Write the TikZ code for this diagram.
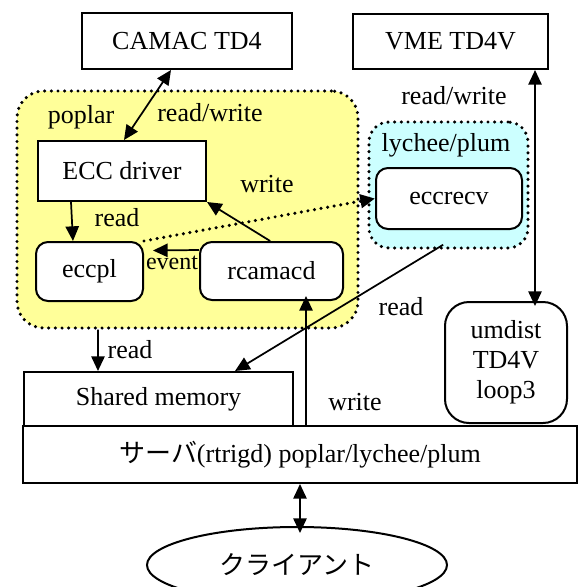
\documentclass[tikz,border=0pt]{standalone}
\usepackage{fontspec}
\setmainfont{Liberation Serif}
\newfontfamily\jpfont{Noto Sans CJK JP}
\usetikzlibrary{arrows.meta,shapes.geometric}
\definecolor{zoneyellow}{RGB}{255,255,153}
\definecolor{zonecyan}{RGB}{204,255,255}
\tikzset{
  box/.style={draw, line width=1.5pt, inner sep=0pt, fill=white, align=center},
  rbox/.style={box, rounded corners=9pt},
  dots/.style={line width=2.6pt, line cap=round, dash pattern=on 0pt off 5pt},
  zone/.style={draw, dots, inner sep=0pt},
  lbl/.style={inner sep=0pt},
  arr/.style={line width=1.3pt, -{Triangle[length=11pt,width=10pt]}},
  dblarr/.style={line width=1.3pt, {Triangle[length=11pt,width=10pt]}-{Triangle[length=11pt,width=10pt]}},
}
\begin{document}
\begin{tikzpicture}[x=0.75pt,y=0.75pt,yscale=-1,xscale=1,font=\fontsize{19.5}{22.5}\selectfont]
        \useasboundingbox (0,0) rectangle (578,587);
        % Zones
        \draw (187.5,209.5) node (poplarzone) [zone, fill=zoneyellow, rounded corners=20pt, minimum width=255.75pt, minimum height=177.75pt] {};
        \draw (448.5,185) node (lycheezone) [zone, fill=zonecyan, rounded corners=15pt, minimum width=119.25pt, minimum height=94.5pt] {};
        % Boxes
        \draw (187,41) node (camac) [box, minimum width=157.5pt, minimum height=42pt] {CAMAC TD4};
        \draw (450.5,41.5) node (vme) [box, minimum width=146.25pt, minimum height=41.25pt] {VME TD4V};
        \draw (122,171) node (eccdrv) [box, minimum width=126pt, minimum height=45pt] {ECC driver};
        \draw (89.5,271.5) node (eccpl) [rbox, minimum width=80.25pt, minimum height=44.25pt] {eccpl};
        \draw (271.5,271) node (rcamacd) [rbox, minimum width=107.25pt, minimum height=43.5pt] {rcamacd};
        \draw (449,198.5) node (eccrecv) [rbox, minimum width=109.5pt, minimum height=45.75pt] {eccrecv};
        \draw (506,362.5) node (umdist) [rbox, rounded corners=18pt, minimum width=91.5pt, minimum height=90.75pt] {umdist\\TD4V\\loop3};
        \draw (158.5,399) node (shm) [box, minimum width=201.75pt, minimum height=40.5pt] {Shared memory};
        \draw (300,454.5) node (server) [box, minimum width=415.5pt, minimum height=42.75pt] {{\jpfont サーバ}(rtrigd) poplar/lychee/plum};
        \draw (297,565) node (client) [ellipse, draw, line width=1.5pt, inner sep=0pt, minimum width=225pt, minimum height=57pt] {\jpfont クライアント};
        % Text Node
        \draw (81,117) node (poplarlbl) [lbl] {poplar};
        \draw (446,145) node (lycheelbl) [lbl] {lychee/plum};
        \draw (210,113) node (rwcamac) [lbl] {read/write};
        \draw (454,96) node (rwvme) [lbl] {read/write};
        \draw (117,218) node (readecc) [lbl] {read};
        \draw (267,184) node (writeecc) [lbl] {write};
        \draw (172,263) node (eventlbl) [lbl, font=\fontsize{18}{20}\selectfont] {event};
        \draw (401,307) node (readrecv) [lbl] {read};
        \draw (130,350) node (readshm) [lbl] {read};
        \draw (355,402) node (writeserv) [lbl] {write};
        % Connection
        \draw [dblarr] ([xshift=-12pt]camac.south) -- ([xshift=1.5pt]eccdrv.north);
        \draw [arr] ([xshift=-38.25pt]eccdrv.south) -- ([xshift=-12.4pt]eccpl.north);
        \draw [arr] ([xshift=-1pt]rcamacd.north) -- (eccdrv.south east);
        \draw [arr] ([yshift=-15.75pt]rcamacd.west) -- ([xshift=6.75pt,yshift=-15.75pt]eccpl.east);
        \draw [arr, dots] (eccpl.north east) -- (eccrecv.west);
        \draw [dblarr] ([xshift=63.4pt]vme.south) -- ([xshift=21.75pt,yshift=3.75pt]umdist.north);
        \draw [arr] ([xshift=-4pt,yshift=-3.75pt]lycheezone.south) -- ([xshift=57.4pt]shm.north);
        \draw [arr] ([xshift=-67.1pt]poplarzone.south) -- ([xshift=-45.4pt]shm.north);
        \draw [arr] ([xshift=4.5pt]server.north) -- ([xshift=25.9pt,yshift=-3.75pt]rcamacd.south);
        \draw [dblarr] (server.south) -- ([xshift=2.25pt,yshift=5.25pt]client.north);
    \end{tikzpicture}
\end{document}
